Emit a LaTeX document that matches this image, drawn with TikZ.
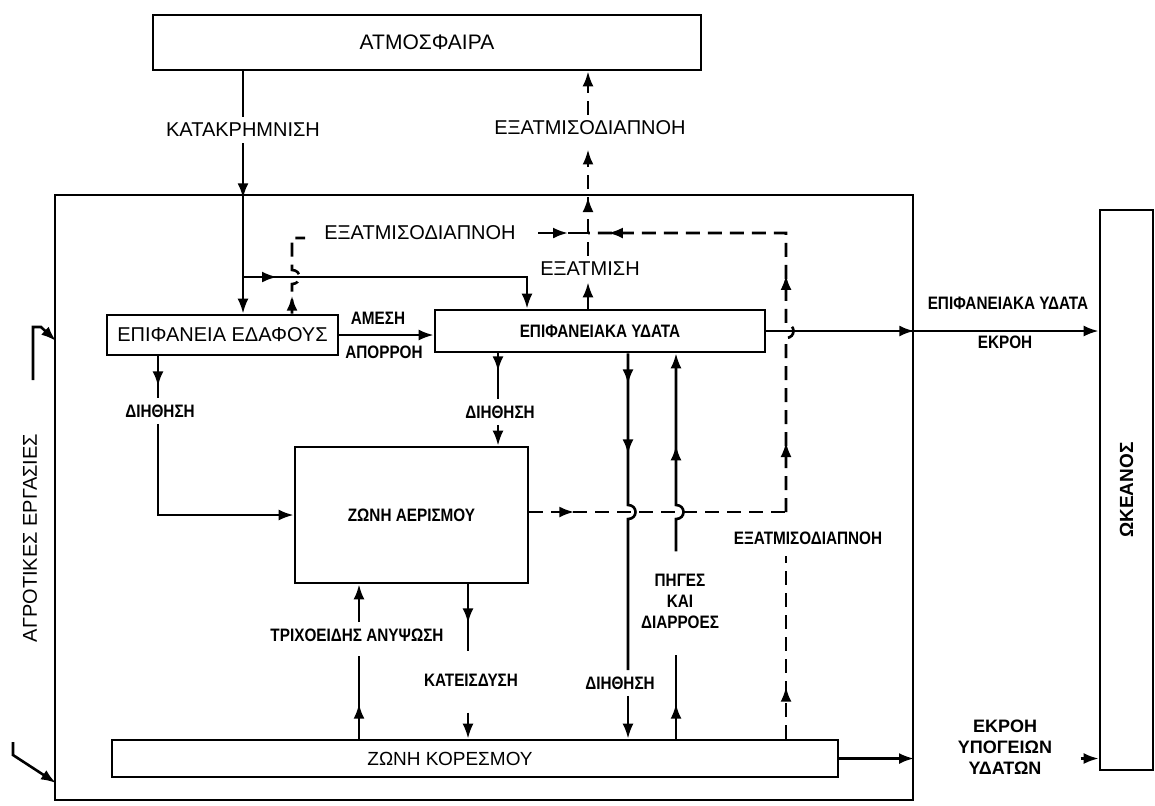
\documentclass[tikz,border=0pt]{standalone}
\usepackage{fontspec}
\setmainfont{Liberation Sans}
\newfontfamily\narrowfont[FakeStretch=0.85]{Liberation Sans}
\usetikzlibrary{arrows.meta,positioning,decorations.markings}

\tikzset{arrat/.style={postaction={decorate,decoration={markings,mark=at position #1 with {\arrow{>}}}}}}

\begin{document}
\begin{tikzpicture}[x=0.5pt, y=-0.5pt, >={Latex[length=7.5pt,width=5.5pt]},
        every node/.append style={inner sep=0pt}]
  \tikzstyle{box} = [draw, line width=1.3pt, rectangle, fill=white]
  \tikzstyle{big} = [font=\fontsize{10}{12}\selectfont]
  \tikzstyle{nb} = [font=\narrowfont\bfseries\fontsize{9}{10.5}\selectfont]
  \tikzstyle{lbl} = [nb, inner sep=3pt, align=center]
  \tikzstyle{flow} = [line width=1.3pt]
  \tikzstyle{wet} = [line width=1.3pt, dash pattern=on 7pt off 4pt]
  \useasboundingbox (0,0) rectangle (1155,805);

  % boxes
  \node (sys) [draw, line width=1pt, minimum width=429pt, minimum height=302.5pt] at (484,497.5) {};
  \node (atm) [box, font=\fontsize{10.5}{12}\selectfont, minimum width=274pt, minimum height=27.5pt] at (427,42.5) {ΑΤΜΟΣΦΑΙΡΑ};
  \node (gnd) [box, big, minimum width=115.5pt, minimum height=20pt] at (222.5,335) {ΕΠΙΦΑΝΕΙΑ ΕΔΑΦΟΥΣ};
  \node (sw) [box, nb, minimum width=165pt, minimum height=21pt] at (600,331) {ΕΠΙΦΑΝΕΙΑΚΑ ΥΔΑΤΑ};
  \node (aer) [box, nb, minimum width=116.5pt, minimum height=68pt] at (411.5,515) {ΖΩΝΗ ΑΕΡΙΣΜΟΥ};
  \node (sat) [box, minimum width=363pt, minimum height=18.5pt,
      label={[font=\fontsize{9.5}{11}\selectfont, xshift=-12.5pt]center:ΖΩΝΗ ΚΟΡΕΣΜΟΥ}] at (475,758.5) {};
  \node (ocean) [box, font=\bfseries\fontsize{9.5}{11}\selectfont, minimum width=26.5pt, minimum height=280pt] at (1126.5,490) {\rotatebox{90}{ΩΚΕΑΝΟΣ}};
  \node (agr) [big, rotate=90] at (30,538) {ΑΓΡΟΤΙΚΕΣ ΕΡΓΑΣΙΕΣ};

  % labels
  \node (kat) [big, inner sep=3pt] at (243,130) {ΚΑΤΑΚΡΗΜΝΙΣΗ};
  \node (et1) [big, inner sep=3pt] at (590,128) {ΕΞΑΤΜΙΣΟΔΙΑΠΝΟΗ};
  \node (et2) [big, inner sep=3pt] at (420,233) {ΕΞΑΤΜΙΣΟΔΙΑΠΝΟΗ};
  \node (ev) [big, inner sep=3pt] at (590,269) {ΕΞΑΤΜΙΣΗ};
  \node (ames) [lbl] at (378,318) {ΑΜΕΣΗ};
  \node (apor) [lbl] at (384,352) {ΑΠΟΡΡΟΗ};
  \node (dih1) [lbl] at (160,411) {ΔΙΗΘΗΣΗ};
  \node (dih2) [lbl] at (500,412) {ΔΙΗΘΗΣΗ};
  \node (dih3) [lbl] at (620,683) {ΔΙΗΘΗΣΗ};
  \node (pig) [lbl] at (680,601) {ΠΗΓΕΣ\\ΚΑΙ\\ΔΙΑΡΡΟΕΣ};
  \node (et3) [lbl] at (808,538) {ΕΞΑΤΜΙΣΟΔΙΑΠΝΟΗ};
  \node (tri) [lbl] at (357,635) {ΤΡΙΧΟΕΙΔΗΣ ΑΝΥΨΩΣΗ};
  \node (kat2) [lbl] at (471,680) {ΚΑΤΕΙΣΔΥΣΗ};
  \node (swout) [lbl] at (1008,303) {ΕΠΙΦΑΝΕΙΑΚΑ ΥΔΑΤΑ};
  \node (ekr) [lbl] at (1005,342) {ΕΚΡΟΗ};
  \node (gwout) [lbl, font=\bfseries\fontsize{9}{10.5}\selectfont] at (1005,747) {ΕΚΡΟΗ\\ΥΠΟΓΕΙΩΝ\\ΥΔΑΤΩΝ};

  % line positions
  \coordinate (xKat) at (243,0);
  \coordinate (xEt) at (588,0);
  \coordinate (xEg) at (292,0);
  \coordinate (xBr) at (527,0);
  \coordinate (xD1) at (158,0);
  \coordinate (xD2) at (498,0);
  \coordinate (xD3) at (628,0);
  \coordinate (xPg) at (676,0);
  \coordinate (xEr) at (786,0);
  \coordinate (xTr) at (359,0);
  \coordinate (xKd) at (468,0);
  \coordinate (J) at (588,233);
  \coordinate (C1) at (786,233);
  \coordinate (C2) at (786,512);
  \coordinate (E3) at (786,556);
  \coordinate (B1) at (243,277);
  \coordinate (B2) at (527,277);
  \coordinate (ag1) at (33,380);
  \coordinate (ag2) at (33,327);
  \coordinate (ag3) at (41,327);
  \coordinate (ag4) at (56,341);
  \coordinate (ag5) at (13,742);
  \coordinate (ag6) at (13,755);
  \coordinate (ag7) at (56,783);

  % precipitation
  \draw[flow] (xKat |- atm.south) -- (kat.north);
  \draw[flow,->,arrat=27.5pt] (kat.south) -- (xKat |- gnd.north);
  \draw[flow,->,arrat=17pt] (B1) -- (B2) -- (xBr |- sw.north);

  % evapotranspiration
  \draw[wet,->,arrat=18pt,shorten >=4pt] (J) -- (xEt |- et1.south);
  \draw[wet,->] (xEt |- et1.north) -- (xEt |- atm.south);
  \draw[wet,arrat=9pt] (xEg |- gnd.north) -- (292,284) .. controls +(10,0) and +(10,0) .. (292,270) -- (292,238) -- (305,238);
  \draw[flow,->,shorten <=8pt] (et2.east) -- ([xshift=-10pt]J);
  \draw[flow] ([xshift=-10pt]J) -- (J);
  \draw[wet,->] (xEt |- sw.north) -- (xEt |- ev.south);
  \draw[wet] (xEt |- ev.north) -- (J);
  \draw[wet,arrat=35pt,arrat=123pt,arrat=233pt] (C2) -- (786,338) .. controls +(10,0) and +(10,0) .. (786,324) -- (C1) -- (J);
  \draw[wet,arrat=22.5pt] (aer.east |- C2) -- (C2);
  \draw[wet,arrat=26pt] (xEr |- sat.north) -- (E3);

  % runoff
  \draw[flow,->] (gnd.east) -- (gnd.east -| sw.west);
  \draw[flow,->,arrat=74pt] (sw.east) -- (sw.east -| ocean.west);

  % infiltration
  \draw[flow,arrat=15pt] (xD1 |- gnd.south) -- (xD1 |- dih1.north);
  \draw[flow,->] (xD1 |- dih1.south) |- (aer.west);
  \draw[flow,arrat=9pt] (xD2 |- sw.south) -- (xD2 |- dih2.north);
  \draw[flow,->] (xD2 |- dih2.south) -- (xD2 |- aer.north);
  \draw[flow,arrat=15.5pt,arrat=50.5pt] (xD3 |- sw.south) -- (628,505) .. controls +(10,0) and +(10,0) .. (628,519) -- (xD3 |- dih3.north);
  \draw[flow,->] (xD3 |- dih3.south) -- (xD3 |- sat.north);

  % springs and seepage
  \draw[flow,arrat=17.5pt,shorten >=10pt] (xPg |- sat.north) -- (xPg |- pig.south);
  \draw[flow,->,arrat=65.5pt,shorten <=8pt] (xPg |- pig.north) -- (676,519) .. controls +(10,0) and +(10,0) .. (676,505) -- (xPg |- sw.south);

  % unsaturated / saturated zone
  \draw[flow,arrat=19.5pt,shorten >=8pt] (xKd |- aer.south) -- (xKd |- kat2.north);
  \draw[flow,->,shorten <=10pt] (xKd |- kat2.south) -- (xKd |- sat.north);
  \draw[flow,arrat=17.5pt,shorten >=4pt] (xTr |- sat.north) -- (xTr |- tri.south);
  \draw[flow,->] (xTr |- tri.north) -- (xTr |- aer.south);

  % groundwater outflow
  \draw[flow,->] (sat.east) -- (sat.east -| sys.east);
  \draw[flow,->,shorten <=11pt] (gwout.east |- sat.east) -- (sat.east -| ocean.west);

  % agricultural works
  \draw[flow,->] (ag1) -- (ag2) -- (ag3) -- (ag4);
  \draw[flow,->] (ag5) -- (ag6) -- (ag7);
\end{tikzpicture}
\end{document}
